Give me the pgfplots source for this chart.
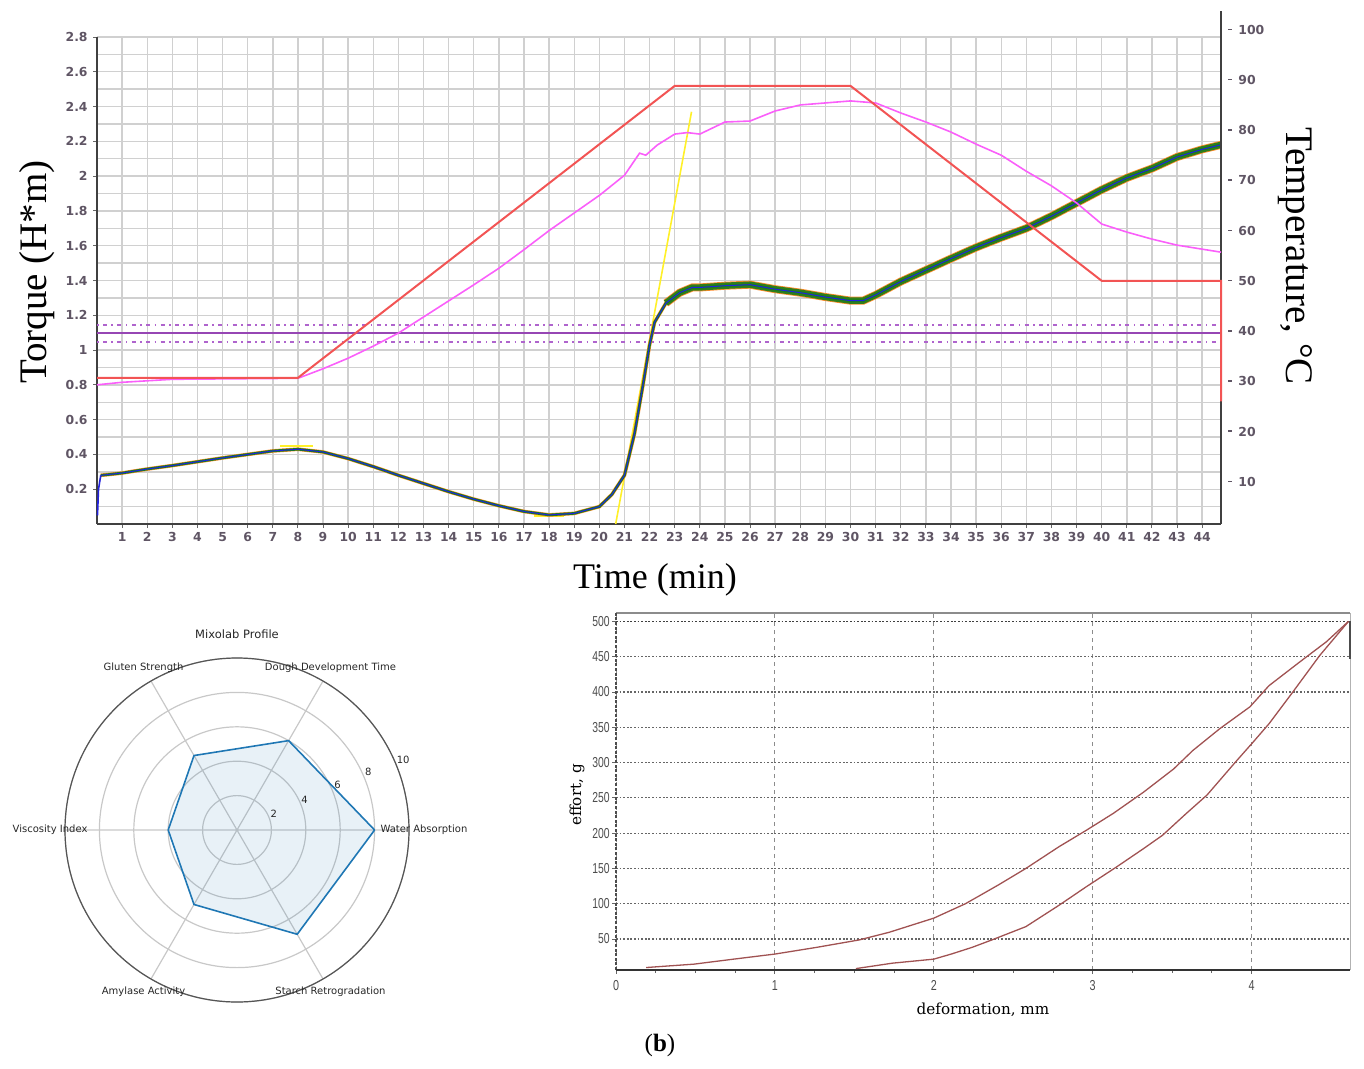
\documentclass[border=0pt]{standalone}
\usepackage{pgfplots}
\pgfplotsset{compat=1.18}
\usepgfplotslibrary{polar}
\usepackage{pgfplotstable}
\usepackage{fontspec}
\setmainfont{Liberation Serif}
\newfontfamily\dejavu{DejaVu Sans}
\newfontfamily\dvserif{DejaVu Serif}
\newfontfamily\libsans{Liberation Sans}

\definecolor{gridgray}{RGB}{208,208,208}
\definecolor{ticklab}{RGB}{95,85,100}
\definecolor{tred}{RGB}{242,84,84}
\definecolor{tmag}{RGB}{250,95,250}
\definecolor{tgreen}{RGB}{25,125,25}
\definecolor{torange}{RGB}{255,140,45}
\definecolor{tblue}{RGB}{35,35,220}
\definecolor{tyellow}{RGB}{255,240,40}
\definecolor{tpurple}{RGB}{150,70,180}
\definecolor{tpurple2}{RGB}{175,100,205}
\definecolor{mplblue}{RGB}{31,119,180}
\definecolor{polgrid}{RGB}{200,200,200}
\definecolor{polline}{RGB}{85,85,85}
\definecolor{brown}{RGB}{160,82,82}

\pgfplotstableread{
t v
0.15 0.28
0.5 0.285
1 0.293
2 0.316
3 0.336
4 0.358
5 0.38
6 0.40
7 0.42
8 0.43
9 0.414
10 0.376
11 0.33
12 0.28
13 0.233
14 0.186
15 0.143
16 0.105
17 0.072
18 0.052
19 0.061
20 0.10
20.5 0.17
21 0.28
21.4 0.52
21.75 0.81
22 1.03
22.2 1.16
22.65 1.27
23.2 1.33
23.7 1.36
24 1.36
25 1.37
26 1.376
27 1.35
28 1.33
29 1.305
30 1.284
30.5 1.284
31 1.317
32 1.394
33 1.46
34 1.526
35 1.59
36 1.647
37 1.70
38 1.77
39 1.846
40 1.922
41 1.99
42 2.044
43 2.11
44 2.154
44.75 2.18
}\torque

\pgfplotstableread{
t T
0 30.7
8 30.7
23 88.8
30 88.8
40 50
44.75 50
44.75 26
}\redtemp

\pgfplotstableread{
t T
0 29.3
1 29.8
3 30.4
8 30.6
9 32.5
10 34.6
11 37
12 39.6
13 42.8
14 46
15 49.2
16 52.5
17 56.2
18 60
19 63.5
20 67
21 71
21.6 75.4
21.85 75.0
22.3 77
23 79.2
23.5 79.5
24 79.2
25 81.6
26 81.8
27 83.8
28 85
29 85.4
30 85.8
31 85.4
32 83.4
33 81.6
34 79.6
35 77.2
36 75
37 71.8
38 68.9
39 65.5
40 61.3
41 59.7
42 58.3
43 57.1
44 56.3
44.75 55.7
}\magtemp

\pgfplotstableread{
x y
0.19 9.5
0.49 14.3
0.74 21.4
1.0 28.6
1.26 38
1.53 48.6
1.72 59.5
2.0 79.5
2.2 100
2.41 127
2.58 150
2.79 181
2.96 204
3.13 228
3.32 258
3.51 291
3.63 317
3.80 348
3.99 379
4.11 409
4.30 442
4.47 471
4.61 500
}\loading

\pgfplotstableread{
x y
1.51 8
1.74 15.7
2.0 21.4
2.11 28.6
2.24 38
2.37 49
2.58 67.5
2.79 98
2.96 124
3.15 152
3.32 178
3.44 197
3.59 228
3.72 254
3.90 301
4.01 329
4.11 355
4.26 400
4.43 452
4.61 500
}\unloading

\begin{document}
\begin{tikzpicture}
\path[use as bounding box] (0,0) rectangle (682pt,-534.5pt);

% ---------------- top: torque ----------------
\begin{axis}[
  at={(48.5pt,-262pt)}, anchor=south west,
  scale only axis, width=562pt, height=243.5pt,
  xmin=0, xmax=44.75, ymin=0, ymax=2.8,
  axis x line*=bottom, axis y line*=left,
  axis line style={black!75, line width=0.7pt},
  xtick={1,...,44},
  ytick={0.2,0.4,0.6,0.8,1,1.2,1.4,1.6,1.8,2,2.2,2.4,2.6,2.8},
  yticklabels={0.2,0.4,0.6,0.8,1,1.2,1.4,1.6,1.8,2,2.2,2.4,2.6,2.8},
  minor ytick={0.1,0.3,0.5,0.7,0.9,1.1,1.3,1.5,1.7,1.9,2.1,2.3,2.5,2.7},
  grid=both,
  major grid style={gridgray, line width=0.7pt},
  minor grid style={gridgray, line width=0.7pt},
  tick style={black!60, line width=0.5pt},
  major tick length=2pt, minor tick length=0pt,
  tick align=outside,
  ticklabel style={font=\dejavu\bfseries\fontsize{6.2}{7}\selectfont, text=ticklab},
  xticklabel style={inner sep=1pt, yshift=-1pt},
  yticklabel style={inner sep=1pt, xshift=-1.5pt},
  /pgf/number format/assume math mode=true,
  clip=false,
]
\addplot[tpurple, line width=0.9pt] coordinates {(0,1.10) (44.75,1.10)};
\addplot[tpurple2, line width=0.8pt, dash pattern=on 0.8pt off 2.2pt on 2pt off 2.2pt] coordinates {(0,1.145) (44.75,1.145)};
\addplot[tpurple2, line width=0.8pt, dash pattern=on 0.8pt off 2.2pt on 2pt off 2.2pt] coordinates {(0,1.048) (44.75,1.048)};
\addplot[tyellow, line width=0.8pt] coordinates {(20.65,0) (23.67,2.37)};
\addplot[tyellow, line width=0.8pt] coordinates {(7.3,0.448) (8.6,0.448)};
\addplot[tyellow, line width=0.8pt] coordinates {(17.4,0.045) (18.6,0.045)};
\addplot[torange, line width=1.8pt] table[x=t,y=v] {\torque};
\addplot[torange, line width=4pt, restrict x to domain=22.5:45] table[x=t,y=v] {\torque};
\addplot[tgreen, line width=1.3pt] table[x=t,y=v] {\torque};
\addplot[tgreen, line width=3.2pt, opacity=0.9, restrict x to domain=22.5:45] table[x=t,y=v] {\torque};
\addplot[tblue, line width=0.5pt] table[x=t,y=v] {\torque};
\addplot[tblue, line width=0.8pt] coordinates {(0.02,0.05) (0.06,0.2) (0.15,0.28)};
\end{axis}

% ---------------- top: temperature ----------------
\begin{axis}[
  at={(48.5pt,-262pt)}, anchor=south west,
  scale only axis, width=562pt, height=256.5pt,
  xmin=0, xmax=44.75, ymin=1.6, ymax=103.7,
  axis x line=none, axis y line*=right,
  axis line style={black!75, line width=0.7pt},
  ytick={10,20,...,100},
  major tick length=0pt,
  yticklabel style={font=\dejavu\bfseries\fontsize{6.2}{7}\selectfont, text=ticklab, inner sep=1pt, xshift=2.5pt},
  yticklabel={\rule[0.32em]{2pt}{0.8pt}\hspace{3pt}\pgfmathprintnumber{\tick}},
  /pgf/number format/assume math mode=true,
  clip=false,
]
\addplot[tmag, line width=0.8pt] table[x=t,y=T] {\magtemp};
\addplot[tred, line width=1pt] table[x=t,y=T] {\redtemp};
\end{axis}

\node[rotate=90, font=\fontsize{19.5}{21}\selectfont] at (18.5pt,-136pt) {Torque (H*m)};
\node[rotate=-90, font=\fontsize{19.5}{21}\selectfont] at (647.5pt,-128pt) {Temperature, °C};
\node[font=\fontsize{18}{20}\selectfont] at (327.5pt,-290pt) {Time (min)};

% ---------------- bottom left: radar ----------------
\node[font=\dejavu\fontsize{5.75}{7}\selectfont, text=black!85] at (118.5pt,-317pt) {Mixolab Profile};
\begin{polaraxis}[
  at={(118.5pt,-415pt)}, anchor=center,
  scale only axis, width=172pt, height=172pt,
  xmin=0, xmax=360, ymin=0, ymax=10,
  xtick={0,60,120,180,240,300}, xticklabels={},
  ytick={2,4,6,8,10}, yticklabels={},
  grid=major,
  major grid style={polgrid, line width=0.6pt},
  separate axis lines,
  x axis line style={polline, line width=0.6pt},
  y axis line style={draw=none},
  major tick length=0pt,
  clip=false,
]
\addplot[draw=mplblue, line width=0.8pt, fill=mplblue, fill opacity=0.1] coordinates {(0,8) (60,6) (120,5) (180,4) (240,5) (300,7) (360,8)};
\begin{scope}[every node/.style={font=\dejavu\fontsize{5}{6}\selectfont, text=black!85}]
\node at (axis cs:0,10.87) {Water Absorption};
\node at (axis cs:60,10.87) {Dough Development Time};
\node at (axis cs:120,10.87) {Gluten Strength};
\node at (axis cs:180,10.87) {Viscosity Index};
\node at (axis cs:240,10.87) {Amylase Activity};
\node at (axis cs:300,10.87) {Starch Retrogradation};
\node at (axis cs:24,2.35) {2};
\node at (axis cs:24,4.3) {4};
\node at (axis cs:24,6.4) {6};
\node at (axis cs:24,8.35) {8};
\node at (axis cs:23,10.5) {10};
\end{scope}
\end{polaraxis}

% ---------------- bottom right: effort ----------------
\begin{axis}[
  at={(308pt,-485pt)}, anchor=south west,
  scale only axis, width=367pt, height=178.5pt,
  xmin=0, xmax=4.62, ymin=6, ymax=512,
  axis line style={draw=none},
  xtick={0,1,2,3,4}, minor x tick num=3,
  ytick={50,100,...,500},
  xmajorgrids, ymajorgrids,
  x grid style={black!45, line width=0.45pt, dash pattern=on 2pt off 2pt},
  y grid style={black!60, line width=0.55pt, dash pattern=on 0.9pt off 0.9pt},
  tick style={black!60, line width=0.4pt},
  major tick length=2pt, minor tick length=1.5pt,
  tick align=outside, xtick pos=bottom, ytick pos=left,
  ticklabel style={font=\libsans\fontsize{7.2}{8}\selectfont, text=black!70, inner sep=1pt},
  xticklabel={\scalebox{0.75}[1]{\pgfmathprintnumber{\tick}}},
  yticklabel={\scalebox{0.72}[1]{\pgfmathprintnumber{\tick}}},
  xticklabel style={yshift=-2pt},
  /pgf/number format/assume math mode=true,
  clip=false,
]
\draw[black!45, line width=0.7pt] (rel axis cs:0,1) -- (rel axis cs:1,1);
\draw[black!30, line width=0.5pt] (rel axis cs:1,0) -- (rel axis cs:1,1);
\draw[black!75, line width=0.9pt, dash pattern=on 0.9pt off 0.9pt] (axis cs:0,500) -- (axis cs:4.62,500);
\draw[black!70, line width=0.6pt, dash pattern=on 1.5pt off 0.8pt] (rel axis cs:0,0) -- (rel axis cs:0,1);
\draw[black!80, line width=0.8pt] (rel axis cs:0,0) -- (rel axis cs:1,0);
\draw[black!70, line width=1.1pt] (axis cs:4.62,500) -- (axis cs:4.62,447);
\addplot[brown, line width=0.65pt] table[x=x,y=y] {\loading};
\addplot[brown, line width=0.65pt] table[x=x,y=y] {\unloading};
\end{axis}
\node[rotate=90, font=\dvserif\fontsize{7.6}{8}\selectfont] at (288.5pt,-397.5pt) {effort, g};
\node[font=\dvserif\fontsize{7.6}{8}\selectfont] at (491.5pt,-505pt) {deformation, mm};

\node[font=\fontsize{12.5}{14}\selectfont] at (330pt,-522.5pt) {(\textbf{b})};
\end{tikzpicture}
\end{document}
